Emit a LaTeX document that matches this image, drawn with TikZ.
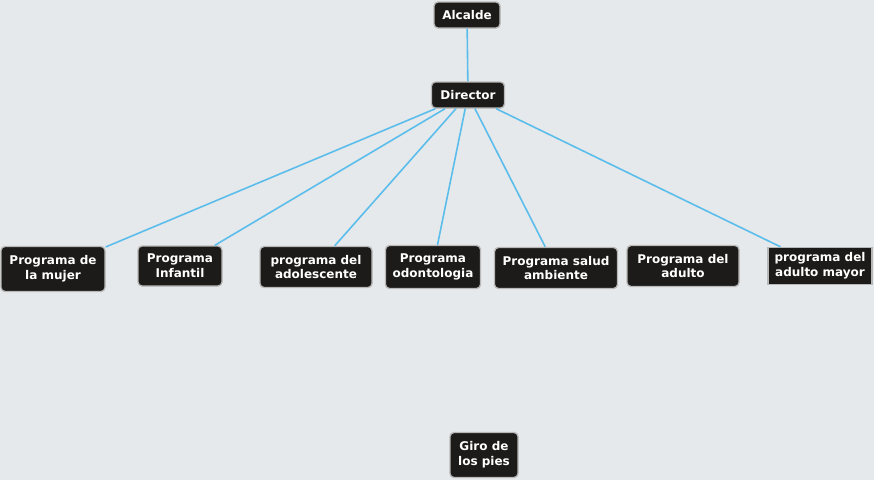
\documentclass[tikz,border=0pt]{standalone}
\usepackage{fontspec}
\setmainfont{DejaVu Sans}
\usepackage{xcolor}
\definecolor{bgcol}{HTML}{E6E9EB}
\definecolor{boxcol}{HTML}{1D1B1A}
\definecolor{rimcol}{HTML}{B8B8B8}
\definecolor{linkcol}{HTML}{5BBDEB}

\begin{document}
\begin{tikzpicture}[x=0.75pt, y=-0.75pt,
    box/.style={draw=rimcol, line width=1pt, fill=boxcol, text=white, rounded corners=3pt,
        align=center, inner sep=0pt, font=\fontsize{9}{11}\selectfont\bfseries},
    link/.style={draw=linkcol, line width=1.2pt}]
    % background
    \fill[bgcol] (0,0) rectangle (874,480);
    \useasboundingbox (0,0) rectangle (874,480);

    % top of the chart
    \node[box, minimum width=49.5pt, minimum height=19.5pt] (alcalde) at (467,15) {Alcalde};
    \node[box, minimum width=54.75pt, minimum height=19.5pt] (director) at (468,95) {Director};

    % programs row
    \node[box, minimum width=78pt, minimum height=33.75pt] (mujer) at (53,269) {Programa de\\la mujer};
    \node[box, minimum width=63pt, minimum height=30pt] (infantil) at (180,266) {Programa\\Infantil};
    \node[box, minimum width=84pt, minimum height=30.75pt] (adolescente) at (316,267) {programa del\\adolescente};
    \node[box, minimum width=71.25pt, minimum height=32.25pt] (odonto) at (433,267) {Programa\\odontologia};
    \node[box, minimum width=92.25pt, minimum height=30.75pt] (salud) at (556,268) {Programa salud\\ambiente};
    \node[box, minimum width=84pt, minimum height=30.75pt] (adulto) at (683,266) {Programa del\\adulto};
    \node[box, rounded corners=0pt, minimum width=78pt, minimum height=27.75pt] (mayor) at (820,266) {programa del\\adulto mayor};

    % loose node at the bottom
    \node[box, minimum width=51pt, minimum height=33.75pt] (giro) at (484,455) {Giro de\\los pies};

    % connectors
    \draw[link] (alcalde) -- (director);
    \foreach \prog in {mujer, infantil, adolescente, odonto, salud, mayor} {
        \draw[link] (director) -- (\prog);
    }
\end{tikzpicture}
\end{document}
